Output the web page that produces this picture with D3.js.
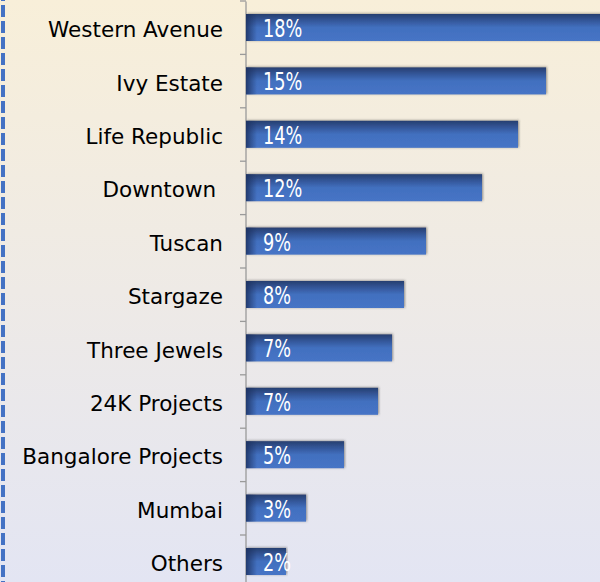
<!DOCTYPE html>
<html>
<head>
<meta charset="utf-8">
<script src="https://cdn.jsdelivr.net/npm/d3@7"></script>
<style>
  html, body { margin: 0; padding: 0; }
  svg { display: block; }
</style>
</head>
<body>
<div id="chart"></div>
<script>
var categories = ["Western Avenue", "Ivy Estate", "Life Republic", "Downtown\u00A0", "Tuscan", "Stargaze",
    "Three Jewels", "24K Projects", "Bangalore Projects", "Mumbai", "Others"];
var shares = [18, 15, 13.6, 11.8, 9, 7.9, 7.3, 6.6, 4.9, 3, 2];
var shareLabels = ["18%", "15%", "14%", "12%", "9%", "8%", "7%", "7%", "5%", "3%", "2%"];

var width = 600, height = 582;

var svg = d3.select("#chart").append("svg")
    .attr("width", width)
    .attr("height", height);

var defs = svg.append("defs");

// background
var bg = defs.append("linearGradient").attr("id", "bg")
    .attr("x1", 0).attr("y1", 0).attr("x2", 0).attr("y2", 1);
bg.append("stop").attr("offset", "0%").attr("stop-color", "#f8efd9");
bg.append("stop").attr("offset", "50%").attr("stop-color", "#eeeae6");
bg.append("stop").attr("offset", "100%").attr("stop-color", "#e3e5f3");

// bar fill
var bf = defs.append("linearGradient").attr("id", "barFill")
    .attr("x1", 0).attr("y1", 0).attr("x2", 0).attr("y2", 1);
bf.append("stop").attr("offset", "0%").attr("stop-color", "#273f70");
bf.append("stop").attr("offset", "25%").attr("stop-color", "#34579a");
bf.append("stop").attr("offset", "50%").attr("stop-color", "#4270bf");
bf.append("stop").attr("offset", "100%").attr("stop-color", "#4674c6");

var lf = defs.append("linearGradient").attr("id", "barLeft")
    .attr("x1", 0).attr("y1", 0).attr("x2", 1).attr("y2", 0);
lf.append("stop").attr("offset", "0%").attr("stop-color", "#1c3160").attr("stop-opacity", 0.85);
lf.append("stop").attr("offset", "100%").attr("stop-color", "#1c3160").attr("stop-opacity", 0);

var sh = defs.append("filter").attr("id", "shadow")
    .attr("x", "-5%").attr("y", "-30%").attr("width", "110%").attr("height", "160%");
sh.append("feDropShadow").attr("dx", 1).attr("dy", -0.5).attr("stdDeviation", 1.3)
    .attr("flood-color", "#404040").attr("flood-opacity", 0.55);

svg.append("rect").attr("width", width).attr("height", height).attr("fill", "url(#bg)");

// dashed border on the left
svg.append("line")
    .attr("x1", 3).attr("x2", 3).attr("y1", -11).attr("y2", height)
    .attr("stroke", "#4472c4").attr("stroke-width", 4)
    .attr("stroke-dasharray", "12,4");

// Scales
var y = d3.scaleBand().domain(categories).range([1, 1 + 53.4 * categories.length]).padding(0);
var x = d3.scaleLinear().domain([0, 15]).range([246, 546]);

// Axis
var yAxis = d3.axisLeft(y).tickSize(0).tickFormat("");
var axisG = svg.append("g").attr("transform", "translate(245.5,0)").call(yAxis);
axisG.select(".domain").attr("stroke", "#9a9a9a").attr("stroke-width", 1.3);

// ticks between categories
svg.append("g").selectAll("line").data(categories)
    .enter().append("line")
    .attr("x1", 240).attr("x2", 246)
    .attr("y1", d => y(d)).attr("y2", d => y(d))
    .attr("stroke", "#9a9a9a").attr("stroke-width", 1.3);

// category labels
svg.append("g").selectAll("text").data(categories)
    .enter().append("text")
    .attr("x", 223)
    .attr("y", d => y(d) + y.bandwidth() / 2 + 2)
    .attr("dy", "0.35em")
    .attr("text-anchor", "end")
    .attr("font-family", "'DejaVu Sans', sans-serif")
    .attr("font-size", 21.5)
    .attr("fill", "#000")
    .text(d => d);

// Chart
var barH = 27;
var bars = svg.append("g").selectAll("g").data(categories)
    .enter().append("g");

bars.append("rect")
    .attr("x", x(0))
    .attr("y", d => y(d) + 13)
    .attr("width", (d, i) => x(shares[i]) - x(0))
    .attr("height", barH)
    .attr("fill", "url(#barFill)")
    .attr("filter", "url(#shadow)");

bars.append("rect")
    .attr("x", x(0))
    .attr("y", d => y(d) + 13)
    .attr("width", (d, i) => Math.min(11, x(shares[i]) - x(0)))
    .attr("height", barH)
    .attr("fill", "url(#barLeft)");

bars.append("text")
    .attr("transform", d => "translate(263," + (y(d) + 13 + barH / 2 + 1) + ") scale(0.82,1)")
    .attr("dy", "0.35em")
    .attr("font-family", "'DejaVu Sans Condensed', 'DejaVu Sans', sans-serif")
    .attr("font-stretch", "condensed")
    .attr("font-size", 24)
    .attr("fill", "#fff")
    .text((d, i) => shareLabels[i]);
</script>
</body>
</html>
